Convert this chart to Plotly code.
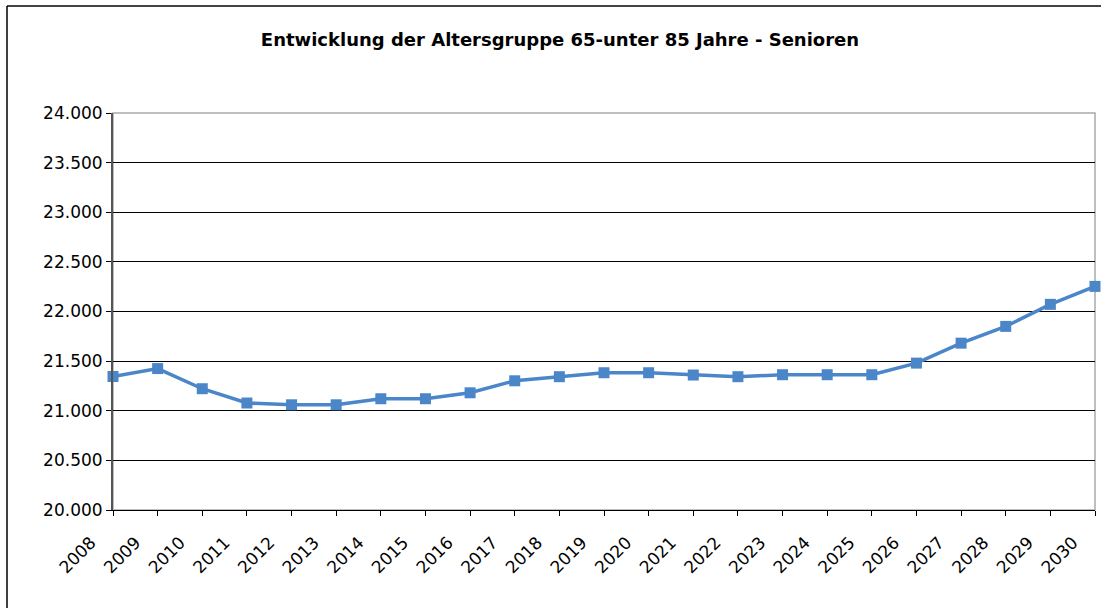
import plotly.graph_objects as go

years = list(range(2008, 2031))
senioren = [21345, 21425, 21222, 21078, 21060, 21060, 21121, 21121, 21181, 21302,
            21343, 21383, 21383, 21360, 21343, 21363, 21363, 21363, 21480, 21681,
            21850, 22072, 22253]
y_ticks = [20000, 20500, 21000, 21500, 22000, 22500, 23000, 23500, 24000]
title = "Entwicklung der Altersgruppe 65-unter 85 Jahre - Senioren"

W, H = 1101, 608
L, R, T, B = 113, 6, 113, 98

fig = go.Figure()
fig.add_trace(go.Scatter(
    x=years, y=senioren, mode="lines+markers",
    line=dict(color="#4A86C8", width=3.5),
    marker=dict(symbol="square", size=11, color="#4A86C8"),
    cliponaxis=False, showlegend=False,
))

pw = W - L - R
ph = H - T - B
def px_x(v):
    return (v - L) / pw
def px_y(v):
    return (H - B - v) / ph

FONT = "DejaVu Sans, Liberation Sans, Arial, sans-serif"

fig.update_layout(
    width=W, height=H,
    margin=dict(l=L, r=R, t=T, b=B),
    paper_bgcolor="white", plot_bgcolor="white",
    separators=",.",
    font=dict(family=FONT, color="black", size=17),
    title=dict(text="<b>" + title + "</b>", x=560 / W, xanchor="center",
               y=1 - 40 / H, yanchor="middle",
               font=dict(size=18, family=FONT)),
    shapes=[
        dict(type="line", xref="paper", yref="paper",
             x0=px_x(7), x1=px_x(1110), y0=px_y(6), y1=px_y(6),
             line=dict(color="#444444", width=2), layer="below"),
        dict(type="line", xref="paper", yref="paper",
             x0=px_x(7), x1=px_x(7), y0=px_y(6), y1=px_y(620),
             line=dict(color="black", width=1.5), layer="below"),
        dict(type="rect", xref="paper", yref="paper",
             x0=0, x1=1, y0=0, y1=1,
             line=dict(color="#AAAAAA", width=1.5), layer="below"),
    ],
)
fig.update_xaxes(
    range=[2008, 2030], tickvals=years, ticktext=[str(y) for y in years],
    tickangle=-45, showgrid=False, zeroline=False,
    showline=True, linecolor="black", linewidth=1,
    ticks="outside", ticklen=5, tickcolor="black",
    tickfont=dict(size=17), ticklabelshift=-22, ticklabelstandoff=10,
)
fig.update_yaxes(
    range=[20000, 24000], tickvals=y_ticks, tickformat=",.0f",
    showgrid=True, gridcolor="black", gridwidth=1, zeroline=False,
    showline=True, linecolor="#555555", linewidth=2,
    ticks="outside", ticklen=5, tickcolor="black",
    tickfont=dict(size=17),
)
fig.write_html("out.html", config={"displayModeBar": False},
               post_script="document.body.style.margin='0';")
